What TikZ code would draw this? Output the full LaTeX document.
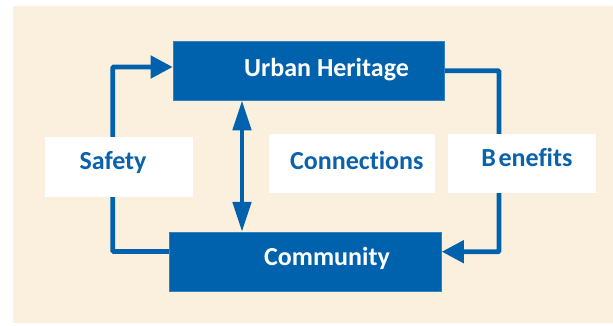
\documentclass[tikz,border=0pt]{standalone}
\usepackage{fontspec}
\setmainfont{Carlito}[Ligatures=NoCommon]
\usetikzlibrary{arrows.meta}
\definecolor{boxblue}{HTML}{0062AC}
\definecolor{txtblue}{HTML}{0B62AC}
\definecolor{beige}{HTML}{FBEFDE}
\pgfdeclarelayer{back}
\pgfdeclarelayer{mid}
\pgfsetlayers{back,mid,main}
\tikzset{
  bluebox/.style={rectangle, fill=boxblue, draw=boxblue!80!white, line width=0.6pt, inner sep=0pt},
  whitebox/.style={rectangle, fill=white, inner sep=0pt},
  lbl/.style={anchor=base, inner sep=0pt, font=\fontsize{26}{30}\selectfont\bfseries},
  conn/.style={draw=boxblue, line width=4.7pt, rounded corners=1pt},
  tip/.style={-{Triangle[length=22pt,width=22pt]}},
  dtip/.style={{Triangle[length=30pt,width=18pt]}-{Triangle[length=30pt,width=18pt]}}
}
\begin{document}
\begin{tikzpicture}[x=1pt,y=-1pt]
\useasboundingbox (0,0) rectangle (613,325);
\begin{pgfonlayer}{back}
\fill[beige] (13,6) rectangle (613,323);
\end{pgfonlayer}
% boxes
\node[bluebox, minimum width=271pt, minimum height=59pt] (uh) at (308.5,70.5) {};
\node[bluebox, minimum width=272pt, minimum height=59.5pt] (cm) at (305.5,262) {};
\node[whitebox, minimum width=148pt, minimum height=60pt] (sf) at (119,167) {};
\node[whitebox, minimum width=166pt, minimum height=59pt] (cn) at (352,163.8) {};
\node[whitebox, minimum width=148pt, minimum height=59.5pt] (bn) at (522,163.7) {};
% labels
\node[lbl, text=white] (uhT) at (326.5,76) {Urban Heritage};
\node[lbl, text=white] (cmT) at (327,265) {Community};
\node[lbl, text=txtblue] (sfT) at (113,169.3) {Safety};
\node[lbl, text=txtblue] (cnT) at (356.8,169) {Connections};
\node[lbl, text=txtblue] (bnT) at (527,166.7) {B\kern2.5pt enefits};
% connectors
\begin{pgfonlayer}{mid}
\draw[conn, tip] (cm.west |- 0,251.5) -| (112.7,67) -- (uh.west |- 0,67);
\draw[conn, tip] (uh.east |- 0,70.7) -| (499,251.7) -- (cm.east |- 0,251.7);
\draw[draw=boxblue, line width=4.7pt, dtip] (242,0 |- uh.south) -- (242,0 |- cm.north);
\end{pgfonlayer}
\end{tikzpicture}
\end{document}
